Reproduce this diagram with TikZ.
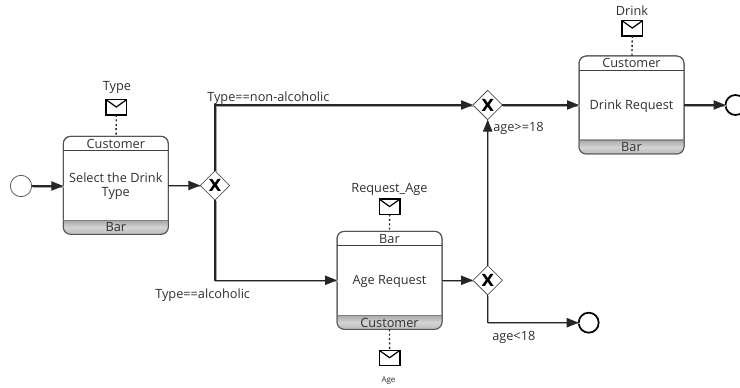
\documentclass[tikz,border=0pt]{standalone}
\usepackage{fontspec}
\setmainfont{Open Sans}
\newfontfamily\gatefont{DejaVu Sans}
\usetikzlibrary{arrows.meta,shapes.geometric,calc}
\definecolor{taskedge}{HTML}{555555}
\definecolor{txt}{HTML}{303030}
\tikzset{
  lbl/.style={font=\fontsize{9.55pt}{10.6pt}\selectfont, text=txt, inner sep=0pt, align=center, yshift=-0.9pt},
  smalllbl/.style={font=\fontsize{6pt}{7pt}\selectfont, text=txt, inner sep=0pt, yshift=-0.6pt},
  taskbox/.style={draw=taskedge, line width=0.75pt, rounded corners=5.5pt, fill=white, minimum width=78.75pt, minimum height=73.5pt, inner sep=0pt, outer sep=0pt},
  gatebox/.style={diamond, draw=taskedge, line width=0.6pt, fill=white, minimum width=22pt, minimum height=22pt, inner sep=0pt, outer sep=0pt, font=\gatefont\bfseries\fontsize{12.5pt}{12.5pt}\selectfont},
  startev/.style={circle, draw=taskedge, line width=0.6pt, fill=white, minimum size=16pt, inner sep=0pt, outer sep=0pt},
  endev/.style={circle, draw=black, line width=1.3pt, fill=white, minimum size=15pt, inner sep=0pt, outer sep=0pt},
  envbox/.style={draw=black, line width=1pt, fill=white, minimum width=15.5pt, minimum height=11.5pt, inner sep=0pt, outer sep=0pt},
  flow/.style={draw=black!85, line width=0.9pt, -{Triangle[length=9pt,width=7pt]},
    preaction={draw=black!35, line width=1.2pt, arrows=-, transform canvas={xshift=0.7pt,yshift=-0.7pt}}},
  assoc/.style={draw=black!85, line width=1pt, dash pattern=on 1.5pt off 1.8pt},
}
\newcommand{\tasknode}[6]{% name, cx, cy, header, body, footer
  \node[taskbox] (#1) at (#2,#3) {};
  \begin{scope}
    \clip[rounded corners=5.5pt] (#1.south west) rectangle (#1.north east);
    \shade[top color=black!34, bottom color=black!27, middle color=black!17]
      ($(#1.south west)+(0,10.5pt)$) rectangle (#1.south east);
  \end{scope}
  \draw[taskedge, line width=0.75pt, rounded corners=5.5pt] (#1.south west) rectangle (#1.north east);
  \draw[black!75, line width=0.6pt] ($(#1.north west)+(0,-10.5pt)$) -- ($(#1.north east)+(0,-10.5pt)$);
  \draw[black!50, line width=0.6pt] ($(#1.south west)+(0,10.5pt)$) -- ($(#1.south east)+(0,10.5pt)$);
  \node[lbl] (#1head) at ($(#1.north)+(0,-4.6pt)$) {#4};
  \node[lbl] (#1body) at (#1) {#5};
  \node[lbl] (#1foot) at ($(#1.south)+(0,6pt)$) {#6};
}
\newcommand{\envnode}[3]{%
  \node[envbox] (#1) at (#2,#3) {};
  \draw[black, line width=0.9pt, line join=miter] (#1.north west) -- ($(#1.center)+(0,0.2pt)$) -- (#1.north east);
}
\begin{document}
\begin{tikzpicture}[x=0.75pt,y=-0.75pt]
\useasboundingbox (0,0) rectangle (740,388);
\clip (0,0) rectangle (740,388);
\fill[white] (0,0) rectangle (740,388);

\tasknode{selecttask}{115.8}{185.3}{Customer}{Select the Drink\\Type}{Bar}
\tasknode{agetask}{389.5}{280.3}{Bar}{Age Request}{Customer}
\tasknode{drinktask}{631.5}{105}{Customer}{Drink Request}{Bar}

\node[startev] (start) at (21,186) {};
\node[gatebox] (gone) at (215,185.5) {X};
\node[gatebox] (gtwo) at (487.7,105) {X};
\node[gatebox] (gthree) at (487.7,280.3) {X};
\node[endev] (endone) at (735.5,105) {};
\node[endev] (endtwo) at (588.7,322.7) {};

\envnode{typeenv}{116.3}{107.3}
\envnode{reqenv}{389.6}{206.8}
\envnode{ageenv}{389.6}{358}
\envnode{drinkenv}{632.3}{28.3}

\draw[assoc] (typeenv) -- (selecttask);
\draw[assoc] (reqenv) -- (agetask);
\draw[assoc] (agetask) -- (ageenv);
\draw[assoc] (drinkenv) -- (drinktask);

\draw[flow] (start) -- (start -| selecttask.west);
\draw[flow] (selecttask.east |- gone) -- (gone.west);
\draw[flow] (gone.north) |- (gtwo.west);
\draw[flow] (gone.south) |- (agetask.west);
\draw[flow] (agetask.east) -- (gthree.west);
\draw[flow] (gthree.north) -- (gtwo.south);
\draw[flow] (gthree.south) |- (endtwo.west);
\draw[flow] (gtwo.east) -- (drinktask.west);
\draw[flow] (drinktask.east) -- (endone.west);

\node[lbl] (typelbl) at (117,86) {Type};
\node[lbl] (reqlbl) at (389.5,188) {Request\_Age};
\node[lbl] (drinklbl) at (632,9) {Drink};
\node[smalllbl] (agelbl) at (388.5,380) {Age};
\node[lbl, anchor=west] (nonalc) at (207,96.5) {Type==non-alcoholic};
\node[lbl, anchor=west] (alc) at (155,294) {Type==alcoholic};
\node[lbl, anchor=west] (adult) at (493,127) {age>=18};
\node[lbl, anchor=west] (minor) at (492,336) {age<18};
\end{tikzpicture}
\end{document}
